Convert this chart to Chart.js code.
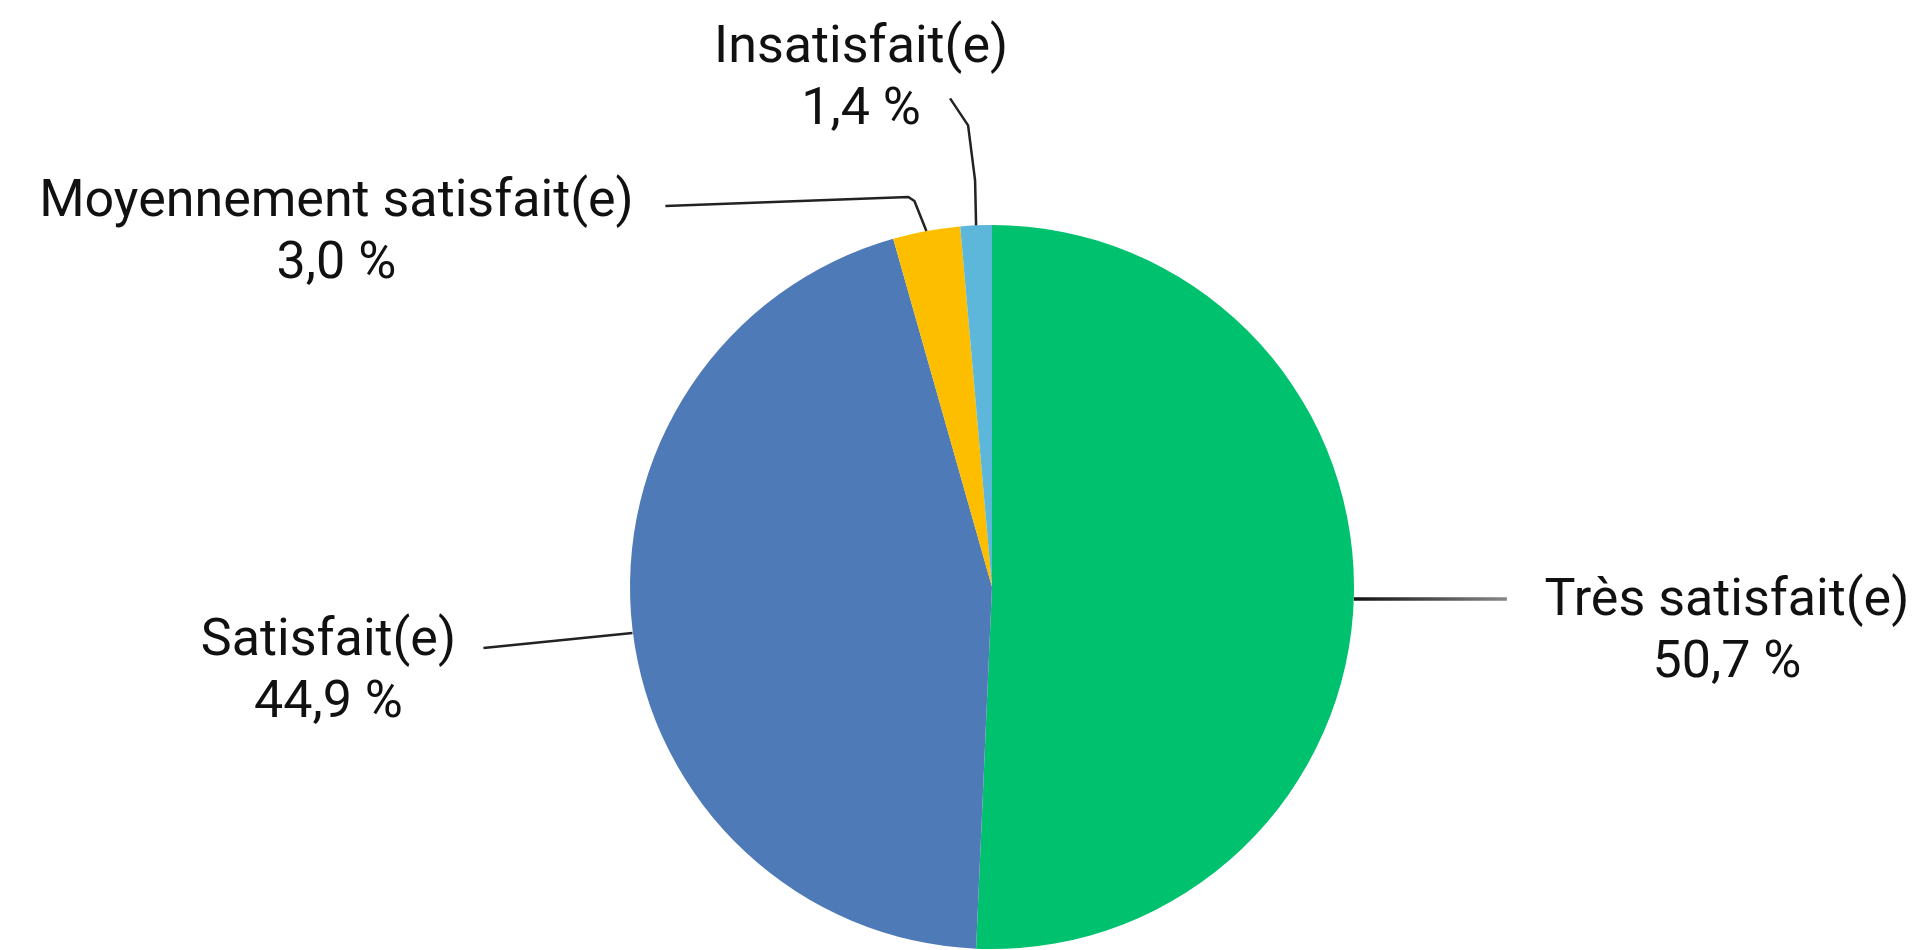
<!DOCTYPE html>
<html>
<head>
<meta charset="utf-8">
<script src="https://cdn.jsdelivr.net/npm/chart.js@4/dist/chart.umd.min.js"></script>
<style>
  body { margin: 0; background: #fff; }
  canvas { display: block; }
</style>
</head>
<body>
<canvas id="graficoSatisfacao" width="1924" height="950"></canvas>
<script>
// dados
const categorias = ['Très satisfait(e)', 'Satisfait(e)', 'Moyennement satisfait(e)', 'Insatisfait(e)']
const valores = [50.7, 44.9, 3.0, 1.4]
const cores = ['#00C16E', '#4F7AB8', '#FDBE00', '#5CB7DA']

// posicao das etiquetas: deslocamento a partir do ponto no bordo da fatia
const linhasGuia = [
    [[0, 4], [153, 4]],
    [[0, 4], [-149, 19]],
    [[0, 0], [-12, -30], [-18, -34], [-261, -25]],
    [[0, 0], [-1, -45], [-8, -100], [-26, -127]]
]
const textoPos = [[373, 20], [-304, 26], [-590, -15], [-115, -163]]

function formatarValor(v) {
    return v.toFixed(1).replace('.', ',') + ' %'
}

const etiquetas = {
    id: 'etiquetas',
    afterDatasetsDraw(chart) {
        const ctx = chart.ctx
        const arcos = chart.getDatasetMeta(0).data
        ctx.save()
        for (let i = 0; i < arcos.length; i++) {
            const a = arcos[i]
            const meio = (a.startAngle + a.endAngle) / 2
            const bx = a.x + Math.cos(meio) * a.outerRadius
            const by = a.y + Math.sin(meio) * a.outerRadius

            // linha guia
            const pts = linhasGuia[i]
            ctx.beginPath()
            ctx.moveTo(bx + pts[0][0], by + pts[0][1])
            for (let j = 1; j < pts.length; j++) {
                ctx.lineTo(bx + pts[j][0], by + pts[j][1])
            }
            if (i == 0) {
                const g = ctx.createLinearGradient(bx, 0, bx + pts[1][0], 0)
                g.addColorStop(0, '#111')
                g.addColorStop(1, '#888')
                ctx.strokeStyle = g
                ctx.lineWidth = 3.5
            } else {
                ctx.strokeStyle = '#222'
                ctx.lineWidth = 2.5
            }
            ctx.lineJoin = 'round'
            ctx.stroke()

            // texto
            const tx = bx + textoPos[i][0]
            const ty = by + textoPos[i][1]
            ctx.fillStyle = '#111'
            ctx.font = '52px Roboto'
            ctx.textAlign = 'center'
            ctx.textBaseline = 'alphabetic'
            ctx.fillText(categorias[i], tx, ty)
            ctx.fillText(formatarValor(valores[i]), tx, ty + 62)
        }
        ctx.restore()
    }
}

new Chart(document.getElementById('graficoSatisfacao'), {
    type: 'pie',
    data: {
        labels: categorias,
        datasets: [{
            data: valores,
            backgroundColor: cores,
            borderWidth: 0,
            hoverOffset: 0
        }]
    },
    options: {
        responsive: false,
        animation: false,
        layout: {
            padding: { top: 225, bottom: 1, left: 560, right: 500 }
        },
        plugins: {
            legend: { display: false },
            tooltip: { enabled: false }
        }
    },
    plugins: [etiquetas]
})
</script>
</body>
</html>
